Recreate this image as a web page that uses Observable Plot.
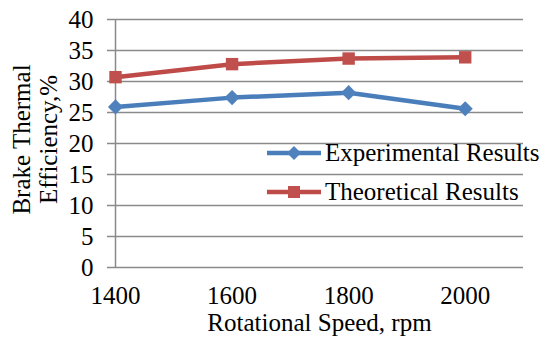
<!DOCTYPE html>
<html>
<head>
<meta charset="utf-8">
<script src="https://cdn.jsdelivr.net/npm/d3@7"></script>
<script src="https://cdn.jsdelivr.net/npm/@observablehq/plot@0.6"></script>
<style>
  html, body { margin: 0; padding: 0; background: #fff; }
  #wrap { position: relative; width: 541px; height: 343px; overflow: hidden; font-family: "Liberation Serif", "Times New Roman", serif; }
  .leg { position: absolute; left: 267px; display: flex; align-items: center; font-size: 25px; color: #000; white-space: nowrap; }
  .leg svg { margin-right: 4px; }
</style>
</head>
<body>
<div id="wrap"></div>
<script>
// ---- data ----
const speeds = [1400, 1600, 1800, 2000];
const experimental = [25.9, 27.4, 28.2, 25.6];
const theoretical = [30.7, 32.8, 33.7, 33.9];
const seriesNames = ["Experimental Results", "Theoretical Results"];
const yTicks = [0, 5, 10, 15, 20, 25, 30, 35, 40];
const xTicks = [1400, 1600, 1800, 2000];

const blueLine = "#4A7EBB", blueFill = "#4F81BD";
const redLine = "#BE4B48", redFill = "#C0504D";
const gridColor = "#8a8a8a";

const rows = [];
speeds.forEach((s, i) => {
  rows.push({speed: s, value: experimental[i], series: seriesNames[0]});
  rows.push({speed: s, value: theoretical[i], series: seriesNames[1]});
});
const exp = rows.filter(d => d.series === seriesNames[0]);
const theo = rows.filter(d => d.series === seriesNames[1]);

const chart = Plot.plot({
  width: 541,
  height: 343,
  marginLeft: 115,
  marginRight: 18,
  marginTop: 19,
  marginBottom: 76,
  style: {fontFamily: "'Liberation Serif', 'Times New Roman', serif", fontSize: "25px", color: "#000", background: "#fff", overflow: "visible"},
  x: {domain: [1400, 2100]},
  y: {domain: [0, 40]},
  marks: [
    Plot.ruleY(yTicks, {stroke: gridColor, strokeWidth: 1.5}),
    Plot.ruleX([1400], {y1: 0, y2: 40, stroke: gridColor, strokeWidth: 1.5}),
    Plot.axisY({ticks: yTicks, tickSize: 8, tickPadding: 14, stroke: gridColor, strokeWidth: 1.5, fill: "#000", fontSize: 25, label: null}),
    Plot.axisX({ticks: xTicks, tickSize: 0, tickPadding: 19, tickFormat: d => String(d), fill: "#000", fontSize: 25, label: null}),
    Plot.text(["Rotational Speed, rpm"], {frameAnchor: "bottom", dy: 63, fontSize: 25, fill: "#000"}),
    Plot.text(["Brake Thermal\nEfficiency,%"], {frameAnchor: "left", textAnchor: "middle", dx: -81, dy: -4, rotate: -90, fontSize: 25, fill: "#000", lineHeight: 1.1}),
    Plot.line(exp, {x: "speed", y: "value", stroke: blueLine, strokeWidth: 4.5}),
    Plot.dot(exp, {x: "speed", y: "value", symbol: "diamond2", r: 6.8, fill: blueFill, stroke: "none"}),
    Plot.line(theo, {x: "speed", y: "value", stroke: redLine, strokeWidth: 4.5}),
    Plot.dot(theo, {x: "speed", y: "value", symbol: "square", r: 7, fill: redFill, stroke: "none"})
  ]
});

const wrap = document.getElementById("wrap");
wrap.appendChild(chart);

// legend overlay
function legendItem(name, top, color, fill, shape) {
  const div = document.createElement("div");
  div.className = "leg";
  div.style.top = (top - 15) + "px";
  div.style.height = "30px";
  const marker = shape === "diamond"
    ? `<path d="M27,8 L34,15 L27,22 L20,15 Z" fill="${fill}"/>`
    : `<rect x="21" y="9" width="12" height="12" fill="${fill}"/>`;
  div.innerHTML = `<svg width="54" height="30"><line x1="0" x2="54" y1="15" y2="15" stroke="${color}" stroke-width="4.5"/>${marker}</svg><span>${name}</span>`;
  wrap.appendChild(div);
}
legendItem(seriesNames[0], 153, blueLine, blueFill, "diamond");
legendItem(seriesNames[1], 192, redLine, redFill, "square");
</script>
</body>
</html>
